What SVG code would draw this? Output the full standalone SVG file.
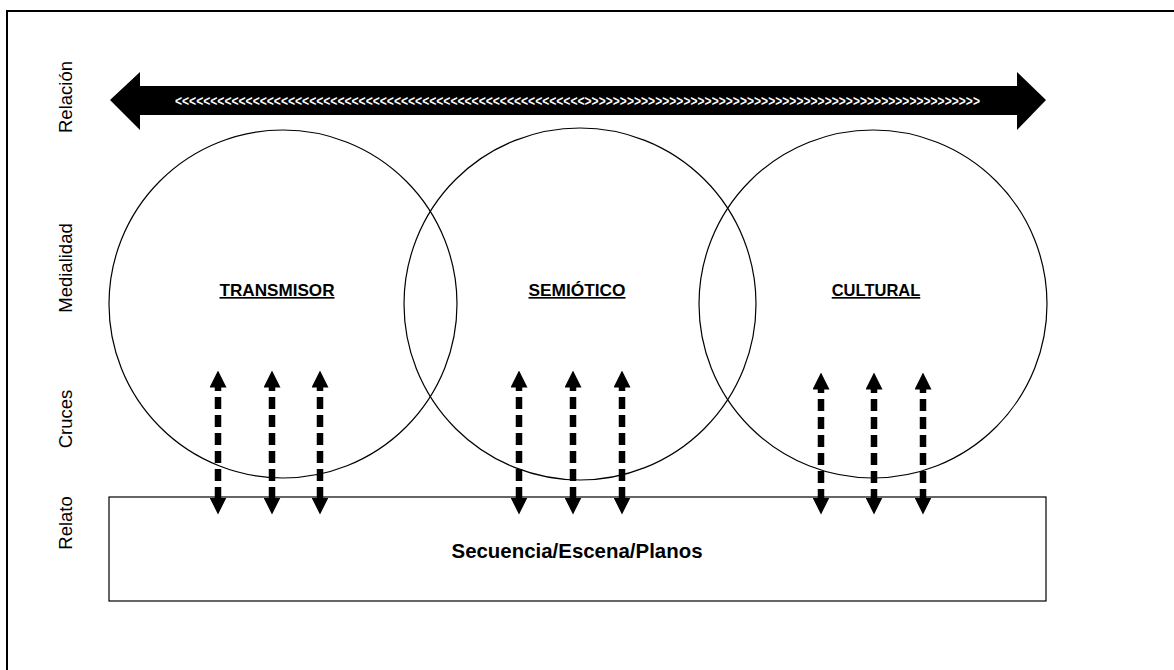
<svg xmlns="http://www.w3.org/2000/svg" width="1174" height="670" viewBox="0 0 1174 670">
<style>
.frame{stroke:#000;stroke-width:2;fill:none}
.circ{fill:none;stroke:#000;stroke-width:1.2}
.side{font-family:"Liberation Sans",Arial,sans-serif;font-size:18.5px;fill:#000}
.lbl{font-family:"Liberation Sans",Arial,sans-serif;font-size:16.5px;font-weight:bold;fill:#000;text-decoration:underline}
.dash{stroke:#000;stroke-width:6.5;stroke-dasharray:12 6;fill:none}
</style>
<defs>
<marker id="ah" viewBox="0 0 10 10" refX="5" refY="5" markerWidth="17" markerHeight="17" markerUnits="userSpaceOnUse" orient="auto-start-reverse">
<path d="M0,0 L10,5 L0,10 z" fill="#000"/>
</marker>
</defs>
<rect width="1174" height="670" fill="#fff"/>
<path class="frame" d="M7,670 V11 H1174"/>
<g id="relacion-arrow">
<polygon points="110,100 140,72 140,86 1017,86 1017,72 1046,100 1017,130 1017,115 140,115 140,130" fill="#000"/>
<text x="175" y="106" font-family="Liberation Sans,Arial,sans-serif" font-size="15" font-weight="bold" fill="#fff" textLength="805" lengthAdjust="spacingAndGlyphs">&lt;&lt;&lt;&lt;&lt;&lt;&lt;&lt;&lt;&lt;&lt;&lt;&lt;&lt;&lt;&lt;&lt;&lt;&lt;&lt;&lt;&lt;&lt;&lt;&lt;&lt;&lt;&lt;&lt;&lt;&lt;&lt;&lt;&lt;&lt;&lt;&lt;&lt;&lt;&lt;&lt;&lt;&lt;&lt;&lt;&lt;&lt;&lt;&lt;&lt;&lt;&lt;&lt;&lt;&lt;&lt;&lt;&lt;&gt;&gt;&gt;&gt;&gt;&gt;&gt;&gt;&gt;&gt;&gt;&gt;&gt;&gt;&gt;&gt;&gt;&gt;&gt;&gt;&gt;&gt;&gt;&gt;&gt;&gt;&gt;&gt;&gt;&gt;&gt;&gt;&gt;&gt;&gt;&gt;&gt;&gt;&gt;&gt;&gt;&gt;&gt;&gt;&gt;&gt;&gt;&gt;&gt;&gt;&gt;&gt;&gt;&gt;&gt;&gt;</text>
</g>
<g id="side-labels">
<text class="side" transform="translate(72,97) rotate(-90)" text-anchor="middle">Relación</text>
<text class="side" transform="translate(72,268) rotate(-90)" text-anchor="middle">Medialidad</text>
<text class="side" transform="translate(72,419) rotate(-90)" text-anchor="middle">Cruces</text>
<text class="side" transform="translate(72,523) rotate(-90)" text-anchor="middle">Relato</text>
</g>
<g id="transmisor">
<circle class="circ" cx="283" cy="304" r="174"/>
<text class="lbl" x="277" y="296" text-anchor="middle" textLength="115" lengthAdjust="spacingAndGlyphs">TRANSMISOR</text>
</g>
<g id="semiotico">
<circle class="circ" cx="580" cy="304" r="176"/>
<text class="lbl" x="577" y="296" text-anchor="middle" textLength="97" lengthAdjust="spacingAndGlyphs">SEMIÓTICO</text>
</g>
<g id="cultural">
<circle class="circ" cx="873" cy="304" r="174"/>
<text class="lbl" x="876" y="296" text-anchor="middle">CULTURAL</text>
</g>
<g id="relato">
<rect x="109" y="497" width="937" height="104" fill="none" stroke="#000" stroke-width="1.2"/>
<text x="577" y="558" text-anchor="middle" font-family="Liberation Sans,Arial,sans-serif" font-size="21" font-weight="bold" textLength="251" lengthAdjust="spacingAndGlyphs">Secuencia/Escena/Planos</text>
</g>
<g id="connectors">
<line class="dash" x1="218" y1="379" x2="218" y2="506" marker-start="url(#ah)" marker-end="url(#ah)"/>
<line class="dash" x1="272" y1="379" x2="272" y2="506" marker-start="url(#ah)" marker-end="url(#ah)"/>
<line class="dash" x1="320" y1="379" x2="320" y2="506" marker-start="url(#ah)" marker-end="url(#ah)"/>
<line class="dash" x1="519" y1="379" x2="519" y2="506" marker-start="url(#ah)" marker-end="url(#ah)"/>
<line class="dash" x1="573" y1="379" x2="573" y2="506" marker-start="url(#ah)" marker-end="url(#ah)"/>
<line class="dash" x1="622" y1="379" x2="622" y2="506" marker-start="url(#ah)" marker-end="url(#ah)"/>
<line class="dash" x1="821" y1="381" x2="821" y2="506" marker-start="url(#ah)" marker-end="url(#ah)"/>
<line class="dash" x1="874" y1="381" x2="874" y2="506" marker-start="url(#ah)" marker-end="url(#ah)"/>
<line class="dash" x1="923" y1="381" x2="923" y2="506" marker-start="url(#ah)" marker-end="url(#ah)"/>
</g>
</svg>
